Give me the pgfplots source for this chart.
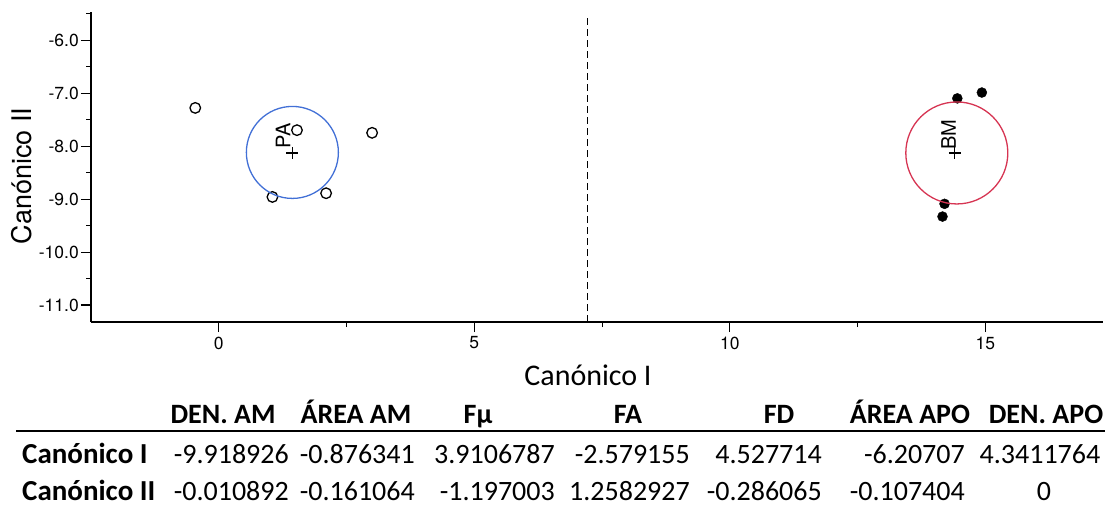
\documentclass[border=0pt]{standalone}
\usepackage{pgfplots}
\pgfplotsset{compat=1.18}
\usepackage{fontspec}
\setmainfont{Carlito}
\newfontfamily\heros{TeX Gyre Heros}
\definecolor{pablue}{RGB}{66,112,214}
\definecolor{bmred}{RGB}{214,52,82}
\begin{document}
\begin{tikzpicture}[x=1bp,y=1bp]
\path[use as bounding box] (0,0) rectangle (1105,-506);
\begin{axis}[
  at={(91bp,-322bp)}, anchor=south west,
  scale only axis, width=1012bp, height=310bp,
  xmin=-2.5, xmax=17.3, ymin=-11.32, ymax=-5.47,
  axis x line=bottom, axis y line=left,
  axis line style={-, line width=1.2bp, black},
  tick align=outside, major tick length=10bp, minor tick length=5bp,
  every tick/.style={black, line width=1.1bp},
  xtick={0,5,10,15}, ytick={-11,-10,-9,-8,-7,-6},
  minor xtick={2.5,7.5,12.5},
  minor ytick={-10.5,-9.5,-8.5,-7.5,-6.5,-5.5},
  /pgf/number format/assume math mode=true,
  tick label style={font=\heros\fontsize{17.5bp}{20bp}\selectfont},
  yticklabel style={/pgf/number format/fixed, /pgf/number format/fixed zerofill, /pgf/number format/precision=1, inner sep=2bp},
  xticklabel style={inner sep=4.5bp},
  clip=false,
]
\addplot[only marks, mark=o, mark size=5.3bp, mark options={line width=1.3bp, draw=black}]
  coordinates {(-0.46,-7.28) (1.53,-7.70) (3.00,-7.75) (1.05,-8.96) (2.10,-8.89)};
\addplot[only marks, mark=*, mark size=5bp, mark options={fill=black, draw=black}]
  coordinates {(14.45,-7.10) (14.93,-6.99) (14.20,-9.09) (14.16,-9.33)};
\addplot[only marks, mark=+, mark size=6bp, mark options={line width=1.2bp, draw=black}]
  coordinates {(1.44,-8.13) (14.40,-8.13)};
\addplot[only marks, mark=o, mark size=46bp, mark options={draw=pablue, line width=1.3bp}]
  coordinates {(1.44,-8.12)};
\addplot[only marks, mark=o, mark size=51bp, mark options={draw=bmred, line width=1.3bp}]
  coordinates {(14.44,-8.13)};
\addplot[black, line width=1.3bp, dash pattern=on 7bp off 4bp]
  coordinates {(7.21,-11.32) (7.21,-5.53)};
\node[rotate=90, font=\heros\fontsize{20bp}{22bp}\selectfont, inner sep=0] at (axis cs:1.26,-7.81) {PA};
\node[rotate=90, font=\heros\fontsize{20bp}{22bp}\selectfont, inner sep=0] at (axis cs:14.28,-7.79) {BM};
\end{axis}
% axis titles
\node[rotate=90, font=\heros\fontsize{27bp}{30bp}\selectfont, inner sep=0] at (22,-176) {Canónico II};
\node[anchor=base, font=\fontsize{30bp}{34bp}\selectfont, inner sep=0] at (588,-386) {Canónico I};
% table
\begin{scope}[every node/.style={inner sep=0, text depth=0pt, font=\fontsize{28bp}{32bp}\selectfont}]
\foreach \x/\t in {223/DEN. AM, 356/ÁREA AM, 478/Fμ, 628/FA, 779/FD, 910/ÁREA APO, 1046/DEN. APO}
  \node[anchor=base, font=\bfseries\fontsize{28bp}{32bp}\selectfont] at (\x,-423) {\t};
\draw[line width=2.5bp] (16,-431) -- (1105,-431);
\node[anchor=base west, font=\bfseries\fontsize{29bp}{32bp}\selectfont] at (22,-463) {Canónico I};
\node[anchor=base west, font=\bfseries\fontsize{29bp}{32bp}\selectfont] at (22,-500) {Canónico II};
\foreach \x/\t in {289/-9.918926, 415/-0.876341, 555/3.9106787, 690/-2.579155, 822/4.527714, 965/-6.20707}
  \node[anchor=base east] at (\x,-463) {\t};
\node[anchor=base] at (1040,-463) {4.3411764};
\foreach \x/\t in {289/-0.010892, 415/-0.161064, 555/-1.197003, 690/1.2582927, 822/-0.286065, 965/-0.107404}
  \node[anchor=base east] at (\x,-500) {\t};
\node[anchor=base] at (1044,-500) {0};
\end{scope}
\end{tikzpicture}
\end{document}
